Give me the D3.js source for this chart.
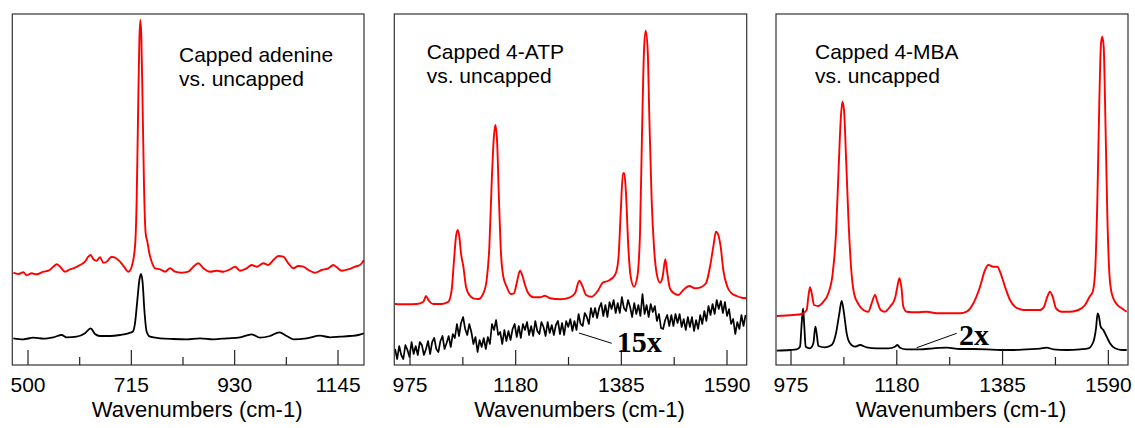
<!DOCTYPE html>
<html>
<head>
<meta charset="utf-8">
<script src="https://cdn.jsdelivr.net/npm/d3@7"></script>
<style>
  body { margin: 0; background: #fff; }
  svg { display: block; }
</style>
</head>
<body>
<div id="chart"></div>
<script>
// Spectra: [wavenumber, intensity (a.u.)]
const adenineCapped = [
  [469.5,92.3],[479.9,91.0],[490.3,92.7],[497.2,89.7],[507.6,91.7],[518.0,90.7],[531.9,93.3],[542.3,94.3],
  [552.7,98.3],[559.7,100.7],[566.6,98.3],[577.0,93.3],[587.4,95.7],[597.8,97.3],[608.2,100],[618.6,103.3],
  [625.5,108.3],[630.4,110],[636.0,105.7],[642.9,104.3],[649.8,107.7],[656.8,102.3],[663.7,103.3],[674.1,108.3],
  [683.1,106.7],[691.4,103.3],[699.8,98.3],[708.8,93.3],[715.7,98.3],[722.6,118.3],[726.1,165],[728.9,248.3],
  [731.7,325],[733.7,345],[735.8,328.3],[738.6,255],[741.4,178.3],[744.8,131.7],[748.3,123.3],[752.5,111.7],
  [757.3,103.3],[764.3,96.7],[774.7,95.7],[785.1,93.3],[795.5,96.7],[805.9,93.3],[819.7,92.3],[833.6,93.3],
  [844.0,98.3],[854.4,101.7],[864.8,96.7],[878.7,93.3],[892.6,94.3],[906.5,93.3],[920.3,95.7],[930.7,98.3],
  [941.1,94.3],[955.0,96.7],[965.4,100],[975.8,98.3],[989.7,101.7],[1000.1,100],[1010.5,105],[1020.9,109],
  [1031.3,108.3],[1041.7,101.7],[1052.1,96.7],[1062.5,99],[1072.9,98.3],[1083.3,95],[1097.2,92.3],[1111.1,95],
  [1124.9,96.7],[1135.3,100],[1142.3,97.7],[1152.7,94.3],[1166.6,95.7],[1180.4,98.3],[1190.8,100],[1199.2,105]
];
const adenineUncapped = [
  [469.5,26.7],[490.3,25.7],[511.1,27.3],[531.9,26.3],[552.7,27.7],[570.1,30],[580.5,27.7],[601.3,28.3],
  [618.6,31.7],[630.4,36.7],[639.4,31],[649.8,29],[670.6,29],[691.4,30],[708.8,31.7],[717.8,33.3],
  [722.6,41.7],[727.5,65],[731.7,85],[735.1,91],[738.6,81.7],[742.1,55],[746.9,33.3],[753.9,28.3],
  [774.7,26.7],[802.4,26],[830.2,25.7],[857.9,26.7],[885.6,25.7],[913.4,26.7],[941.1,27.7],[965.4,30.7],
  [982.7,27.3],[1003.5,29],[1022.9,32.7],[1038.2,29],[1052.1,25.7],[1079.8,26.7],[1107.6,29.3],[1128.4,27.7],
  [1149.2,28.3],[1170.0,29],[1187.4,30],[1199.2,31.7]
];
const atpCapped = [
  [945.9,61],[968.5,60.7],[987.9,61],[1000.9,63.3],[1006.0,69],[1010.6,65],[1020.3,61],[1036.4,61],
  [1049.4,63.3],[1055.8,75],[1060.4,105],[1064.2,128.3],[1067.5,135],[1070.7,128.3],[1073.9,111.7],[1078.5,98.3],
  [1083.6,78.3],[1090.1,70],[1097.9,66.7],[1107.6,66],[1117.3,71.7],[1123.7,85],[1128.9,118.3],[1133.4,181.7],
  [1137.3,225],[1140.5,240],[1143.8,225],[1147.6,165],[1151.5,111.7],[1156.0,88.3],[1162.5,78.3],[1170.3,71],
  [1176.7,71.7],[1181.9,81.7],[1188.4,94.3],[1193.6,88.3],[1198.1,80],[1204.5,71.7],[1214.2,67.7],[1227.2,67.7],
  [1236.9,69.3],[1246.6,66.7],[1266.0,65.7],[1285.4,67.7],[1295.1,71.7],[1303.5,84.3],[1310.0,78.3],[1316.4,70],
  [1327.4,68.3],[1340.3,75],[1348.7,82.3],[1359.7,84.3],[1372.7,90],[1379.1,105],[1383.7,151.7],[1388.2,191.7],
  [1390.8,191.7],[1394.0,171.7],[1398.5,118.3],[1403.1,88.3],[1409.5,78.3],[1416.0,88.3],[1421.2,131.7],[1425.1,231.7],
  [1429.0,315],[1432.2,334.3],[1436.1,315],[1439.3,248.3],[1443.8,165],[1448.3,118.3],[1453.5,91.7],[1460.0,82.3],
  [1465.1,88.3],[1470.3,105.7],[1474.2,91.7],[1479.3,76.7],[1487.1,71.7],[1495.5,70],[1505.2,75],[1516.8,79],
  [1527.8,76.7],[1538.8,77.7],[1549.2,81.7],[1557.0,98.3],[1563.4,118.3],[1568.6,133.3],[1573.1,130],[1577.7,118.3],
  [1582.8,95],[1590.6,78.3],[1599.0,71.7],[1608.7,69],[1618.4,67.3],[1628.1,66.7]
];
// uncapped 4-ATP (x15), read every 4 cm-1 starting at 946
const atpUncappedStart = 946, atpUncappedStep = 4;
const atpUncapped = [
  16,6,19,10,6,20,15,8,23,11,19,10,23,20,10,16,24,11,23,27,16,13,24,29,16,22,29,18,31,27,
  41,29,42,48,36,30,41,33,21,28,13,25,18,27,16,28,21,41,35,45,30,33,21,35,24,34,25,36,41,28,
  39,27,41,35,43,30,39,29,44,34,31,43,38,29,43,32,40,30,40,44,31,42,30,44,38,46,34,44,35,51,
  41,39,52,48,41,57,48,57,47,57,62,49,60,48,63,56,65,52,62,52,68,57,54,65,58,48,62,51,60,49,
  71,51,60,48,61,53,59,44,51,37,36,45,50,39,50,39,51,42,51,38,46,35,48,38,48,34,45,36,50,41,
  54,44,59,50,61,51,65,56,64,52,63,49,56,41,46,31,43,36,50,39,50
];
const mbaCapped = [
  [947.2,49],[979.5,50],[995.7,51],[1005.4,55],[1008.6,68.3],[1011.8,77.7],[1015.1,71.7],[1019.6,60],
  [1028.0,59],[1037.7,63.3],[1047.4,71.7],[1055.8,91.7],[1062.2,131.7],[1067.4,198.3],[1071.3,245],[1074.5,263.3],
  [1077.7,255],[1081.6,208.3],[1086.1,148.3],[1091.3,98.3],[1097.1,71.7],[1105.5,61],[1115.2,55],[1124.9,53.3],
  [1131.3,61.7],[1137.8,70],[1142.3,63.3],[1148.8,55],[1157.2,53.3],[1166.9,58.3],[1176.6,66.7],[1181.1,78.3],
  [1185.0,86.7],[1188.8,78.3],[1192.7,58.3],[1199.2,53.3],[1218.5,52.7],[1237.9,53.3],[1257.3,51.7],[1283.1,51.7],
  [1302.5,51.7],[1315.4,53.3],[1328.4,61.7],[1341.3,78.3],[1351.0,95],[1357.4,100],[1367.1,98.3],[1374.9,98.3],
  [1381.3,91.7],[1389.7,78.3],[1399.4,65],[1409.1,58.3],[1425.3,55],[1441.4,55],[1457.6,55],[1465.3,58.3],
  [1471.8,68.3],[1476.9,73.3],[1482.1,68.3],[1488.6,56.7],[1499.6,53.3],[1515.7,53.3],[1531.9,55],[1544.8,60],
  [1554.5,69],[1559.7,73.3],[1564.2,91.7],[1568.7,165],[1572.6,265],[1575.8,321.7],[1578.4,328.3],[1581.0,318.3],
  [1584.2,248.3],[1588.1,148.3],[1592.0,91.7],[1596.5,71.7],[1604.9,61.7],[1615.9,56.7],[1625.6,53.3]
];
const mbaUncapped = [
  [947.2,14.3],[973.1,15],[986.0,15.7],[992.4,18.3],[995.7,41.7],[998.3,56.7],[1000.8,38.3],[1003.4,18.3],
  [1011.8,16.7],[1018.3,21.7],[1022.2,38.3],[1024.7,31.7],[1028.0,19],[1040.9,17.7],[1053.8,20],[1062.2,31.7],
  [1068.7,51.7],[1073.2,64],[1077.7,51.7],[1082.9,31.7],[1089.3,21.7],[1099.0,18.3],[1108.7,20],[1121.6,17.7],
  [1141.0,16.7],[1163.6,16.7],[1176.6,18.3],[1181.1,20],[1186.2,17.3],[1199.2,15.7],[1225.0,15.7],[1250.8,16.7],
  [1276.7,17.3],[1302.5,16],[1328.4,16],[1354.2,15.7],[1380.0,15],[1405.9,15],[1431.7,15.7],[1457.6,16.3],
  [1470.5,17.3],[1483.4,15.7],[1509.2,15],[1535.1,15.7],[1551.2,16.7],[1561.0,23.3],[1566.1,36.7],[1569.3,51.7],
  [1571.9,48.3],[1575.1,38.3],[1580.3,35],[1586.8,28.3],[1593.2,21.7],[1602.9,16.7],[1615.9,15],[1625.6,15]
];

const ticksAdenine = [500, 715, 930, 1145];
const ticksThiol = [975, 1180, 1385, 1590];

const width = 1135, height = 428;
const plotTop = 14, plotBottom = 365;

const svg = d3.select('#chart').append('svg')
  .attr('width', width)
  .attr('height', height);

const atpUncappedPts = atpUncapped.map((v, i) => [atpUncappedStart + i * atpUncappedStep, v]);

const panels = [
  { left: 12.3, right: 364, domain: [467.3, 1199.1], ticks: ticksAdenine,
    title: ['Capped adenine', 'vs. uncapped'], tx: 179, ty: 62,
    red: adenineCapped, black: adenineUncapped, blackCurve: d3.curveMonotoneX, blackWidth: 1.8 },
  { left: 394.3, right: 746.7, domain: [944.5, 1628.2], ticks: ticksThiol,
    title: ['Capped 4-ATP', 'vs. uncapped'], tx: 426.7, ty: 59,
    red: atpCapped, black: atpUncappedPts, blackCurve: d3.curveLinear, blackWidth: 1.7,
    note: { text: '15x', from: [1302.9, 32], to: [1366.3, 21.7], at: [1376, 13.3] } },
  { left: 776, right: 1128, domain: [945.9, 1628.1], ticks: ticksThiol,
    title: ['Capped 4-MBA', 'vs. uncapped'], tx: 815, ty: 59,
    red: mbaCapped, black: mbaUncapped, blackCurve: d3.curveMonotoneX, blackWidth: 1.8,
    note: { text: '2x', from: [1218.6, 17.3], to: [1296.1, 31.7], at: [1300.6, 20] } }
];

panels.forEach((p, idx) => {
  const x = d3.scaleLinear().domain(p.domain).range([p.left, p.right]);
  const y = d3.scaleLinear().domain([0, 351]).range([plotBottom, plotTop]);
  const g = svg.append('g');

  const clipId = 'clip' + idx;
  svg.append('clipPath').attr('id', clipId)
    .append('rect')
    .attr('x', p.left).attr('y', plotTop)
    .attr('width', p.right - p.left).attr('height', plotBottom - plotTop);

  // spectra
  const line = d3.line().x(d => x(d[0])).y(d => y(d[1]));
  g.append('path')
    .datum(p.black)
    .attr('clip-path', `url(#${clipId})`)
    .attr('fill', 'none')
    .attr('stroke', '#000')
    .attr('stroke-width', p.blackWidth)
    .attr('stroke-linejoin', 'round')
    .attr('d', line.curve(p.blackCurve));
  g.append('path')
    .datum(p.red)
    .attr('clip-path', `url(#${clipId})`)
    .attr('fill', 'none')
    .attr('stroke', '#ff0000')
    .attr('stroke-width', 1.9)
    .attr('stroke-linejoin', 'round')
    .attr('d', line.curve(d3.curveMonotoneX));

  // frame
  g.append('rect')
    .attr('x', p.left).attr('y', plotTop)
    .attr('width', p.right - p.left).attr('height', plotBottom - plotTop)
    .attr('fill', 'none')
    .attr('stroke', '#333')
    .attr('stroke-width', 1.2);

  // ticks: major labelled, minor midway
  const step = p.ticks[1] - p.ticks[0];
  const minor = p.ticks.slice(0, -1).map(t => t + step / 2);
  g.selectAll('.major').data(p.ticks).join('line')
    .attr('x1', d => x(d)).attr('x2', d => x(d))
    .attr('y1', plotBottom - 15).attr('y2', plotBottom)
    .attr('stroke', '#222').attr('stroke-width', 1.2);
  g.selectAll('.minor').data(minor).join('line')
    .attr('x1', d => x(d)).attr('x2', d => x(d))
    .attr('y1', plotBottom - 8).attr('y2', plotBottom)
    .attr('stroke', '#222').attr('stroke-width', 1.2);

  g.selectAll('.tlabel').data(p.ticks).join('text')
    .attr('x', d => x(d)).attr('y', 392)
    .attr('text-anchor', 'middle')
    .style('font', '21px Arial, "Liberation Sans", sans-serif')
    .text(d => d);

  g.append('text')
    .attr('x', (p.left + p.right) / 2 + 9).attr('y', 416.5)
    .attr('text-anchor', 'middle')
    .style('font', '22px Arial, "Liberation Sans", sans-serif')
    .text('Wavenumbers (cm-1)');

  // panel caption
  p.title.forEach((t, i) => {
    g.append('text')
      .attr('x', p.tx).attr('y', p.ty + i * 24)
      .style('font', '21px Arial, "Liberation Sans", sans-serif')
      .text(t);
  });

  // scale-factor note with leader line
  if (p.note) {
    g.append('line')
      .attr('x1', x(p.note.from[0])).attr('y1', y(p.note.from[1]))
      .attr('x2', x(p.note.to[0])).attr('y2', y(p.note.to[1]))
      .attr('stroke', '#000').attr('stroke-width', 1);
    g.append('text')
      .attr('x', x(p.note.at[0])).attr('y', y(p.note.at[1]))
      .style('font', 'bold 30px "Times New Roman", "Liberation Serif", serif')
      .text(p.note.text);
  }
});
</script>
</body>
</html>
